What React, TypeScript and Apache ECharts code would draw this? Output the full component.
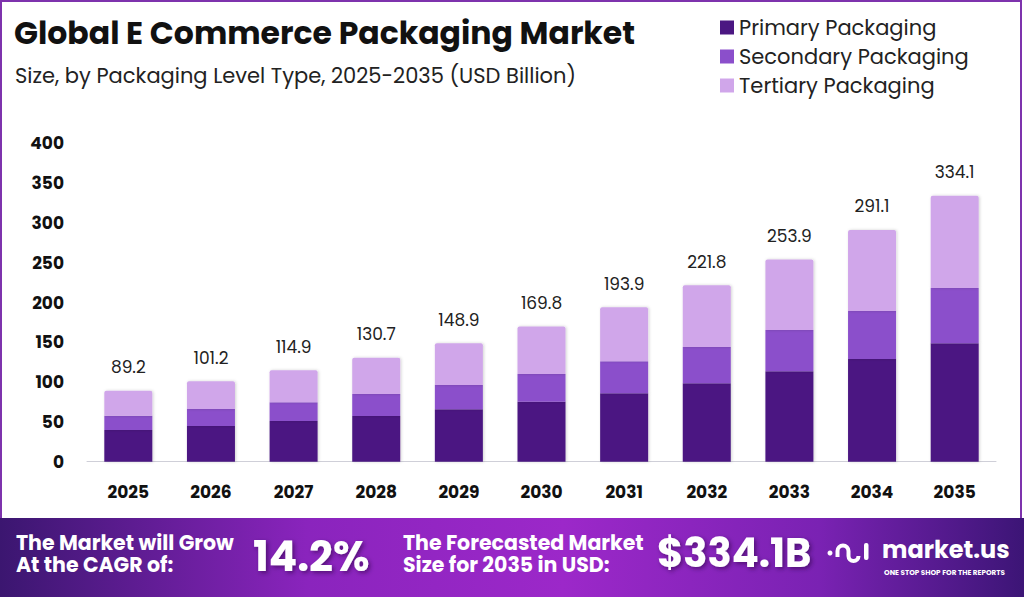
import React, { useEffect, useRef } from "react";
import * as echarts from "echarts";

const years = ["2025", "2026", "2027", "2028", "2029", "2030", "2031", "2032", "2033", "2034", "2035"];
const primary = [39.8, 44.8, 51.1, 57.4, 65.8, 75.4, 85.9, 98.5, 113.6, 129.0, 148.7];
const secondary = [18.0, 21.4, 23.5, 27.6, 30.6, 34.8, 40.2, 45.6, 51.9, 60.3, 69.5];
const tertiary = [31.4, 35.0, 40.3, 45.7, 52.5, 59.6, 67.8, 77.7, 88.4, 101.8, 115.9];
const totals = [89.2, 101.2, 114.9, 130.7, 148.9, 169.8, 193.9, 221.8, 253.9, 291.1, 334.1];
const seriesNames = ["Primary Packaging", "Secondary Packaging", "Tertiary Packaging"];
const colors = ["#4b1782", "#8b4fcb", "#d0a6ea"];
const yTicks = { min: 0, max: 400, interval: 50 };

const FONT = "Poppins, 'Open Sans', 'DejaVu Sans', sans-serif";

export default function App() {
  const ref = useRef<HTMLDivElement>(null);
  useEffect(() => {
    if (!ref.current) return;
    const chart = echarts.init(ref.current, null, { renderer: "svg" });
    const seriesData = [primary, secondary, tertiary];
    const series: any[] = seriesData.map((d, i) => ({
      name: seriesNames[i],
      type: "bar",
      stack: "total",
      barWidth: 48,
      data: d,
      itemStyle: {
        color: colors[i],
        borderRadius: i === 2 ? [2, 2, 0, 0] : 0,
        shadowBlur: 3,
        shadowColor: "rgba(0,0,0,0.18)",
        shadowOffsetX: 1,
      },
      label:
        i === 2
          ? {
              show: true,
              position: "top",
              distance: 15,
              formatter: (p: any) => String(totals[p.dataIndex]),
              fontFamily: FONT,
              fontSize: 17,
              color: "#222",
            }
          : { show: false },
    }));

    const white = "#ffffff";
    const shadow = {
      textShadowColor: "rgba(40,0,60,0.55)",
      textShadowBlur: 4,
      textShadowOffsetX: 2,
      textShadowOffsetY: 2,
    };
    const bannerLine = (text: string, x: number, y: number) => ({
      type: "text",
      x,
      y,
      style: {
        text,
        fontFamily: FONT,
        fontSize: 20.5,
        fontWeight: "bold",
        fill: white,
        verticalAlign: "middle",
      },
    });

    chart.setOption({
      animation: false,
      backgroundColor: "#ffffff",
      textStyle: { fontFamily: FONT },
      grid: { left: 87, right: 28, top: 143.3, bottom: 135.3 },
      legend: {
        orient: "vertical",
        left: 715,
        top: 12,
        itemWidth: 14,
        itemHeight: 14,
        itemGap: 8,
        icon: "rect",
        data: seriesNames,
        textStyle: { fontFamily: FONT, fontSize: 21, color: "#222", lineHeight: 21 },
      },
      xAxis: {
        type: "category",
        data: years,
        axisLine: { show: true, lineStyle: { color: "#cfcfd8", width: 1 } },
        axisTick: { show: false },
        axisLabel: { fontFamily: FONT, fontSize: 17, fontWeight: "bold", color: "#111", margin: 22 },
      },
      yAxis: {
        type: "value",
        min: yTicks.min,
        max: yTicks.max,
        interval: yTicks.interval,
        splitLine: { show: false },
        axisLine: { show: false },
        axisTick: { show: false },
        axisLabel: { fontFamily: FONT, fontSize: 17, fontWeight: "bold", color: "#111", margin: 23 },
      },
      series,
      graphic: [
        {
          type: "rect",
          shape: { x: 1, y: 1, width: 1020, height: 600 },
          style: { fill: "none", stroke: "#7e32ad", lineWidth: 2 },
          silent: true,
        },
        {
          type: "text",
          x: 14,
          y: 33,
          style: {
            text: "Global E Commerce Packaging Market",
            fontFamily: FONT,
            fontSize: 31.5,
            fontWeight: "bold",
            fill: "#111",
            verticalAlign: "middle",
          },
        },
        {
          type: "text",
          x: 15,
          y: 75,
          style: {
            text: "Size, by Packaging Level Type, 2025-2035 (USD Billion)",
            fontFamily: FONT,
            fontSize: 21,
            fill: "#222",
            verticalAlign: "middle",
          },
        },
        {
          type: "rect",
          shape: { x: 0, y: 518, width: 1024, height: 79 },
          style: {
            fill: new echarts.graphic.LinearGradient(0, 0, 1, 0, [
              { offset: 0, color: "#3b1670" },
              { offset: 0.3, color: "#8a24bd" },
              { offset: 0.55, color: "#9c28c9" },
              { offset: 0.8, color: "#7a22b3" },
              { offset: 1, color: "#3c1576" },
            ]),
          },
          silent: true,
        },
        bannerLine("The Market will Grow", 16, 542),
        bannerLine("At the CAGR of:", 16, 564),
        {
          type: "text",
          x: 253,
          y: 556,
          style: {
            text: "14.2%",
            fontFamily: FONT,
            fontSize: 42,
            fontWeight: "bold",
            fill: white,
            verticalAlign: "middle",
            ...shadow,
          },
        },
        bannerLine("The Forecasted Market", 403, 542),
        bannerLine("Size for 2035 in USD:", 403, 564),
        {
          type: "text",
          x: 657,
          y: 553,
          style: {
            text: "$334.1B",
            fontFamily: FONT,
            fontSize: 40,
            fontWeight: "bold",
            fill: white,
            verticalAlign: "middle",
            ...shadow,
          },
        },
        // logo icon
        {
          type: "circle",
          shape: { cx: 830, cy: 553, r: 2.5 },
          style: { fill: white },
        },
        {
          type: "arc",
          shape: { cx: 843, cy: 551, r: 5.5, startAngle: Math.PI, endAngle: 0, clockwise: true },
          style: { stroke: white, lineWidth: 4, fill: "none" },
        },
        {
          type: "polyline",
          shape: { points: [[837.5, 551], [837.5, 557]] },
          style: { stroke: white, lineWidth: 4 },
        },
        {
          type: "arc",
          shape: { cx: 853.5, cy: 556, r: 5, startAngle: 0, endAngle: Math.PI, clockwise: true },
          style: { stroke: white, lineWidth: 4, fill: "none" },
        },
        {
          type: "polyline",
          shape: { points: [[848.5, 551], [848.5, 556]] },
          style: { stroke: white, lineWidth: 4 },
        },
        {
          type: "rect",
          shape: { x: 864, y: 543, width: 4.5, height: 17, r: 2 },
          style: { fill: white },
        },
        {
          type: "text",
          x: 882,
          y: 549,
          style: {
            text: "market.us",
            fontFamily: FONT,
            fontSize: 24,
            fontWeight: "bold",
            fill: white,
            verticalAlign: "middle",
          },
        },
        {
          type: "text",
          x: 884,
          y: 572,
          style: {
            text: "ONE STOP SHOP FOR THE REPORTS",
            fontFamily: FONT,
            fontSize: 7.2,
            fontWeight: "bold",
            fill: white,
            verticalAlign: "middle",
          },
        },
      ],
    });
    return () => chart.dispose();
  }, []);
  return (
    <div
      ref={ref}
      style={{ position: "fixed", left: 0, top: 0, width: 1024, height: 597 }}
    />
  );
}
